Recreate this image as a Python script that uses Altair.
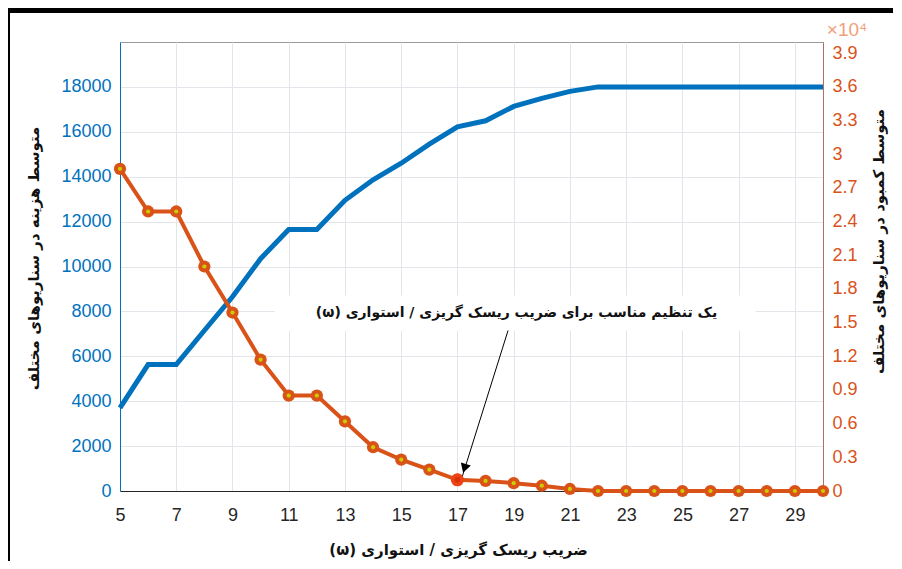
import altair as alt
import pandas as pd

# ---- data ----
omega = list(range(5, 31))
avg_cost = [3700, 5630, 5630, 7150, 8650, 10350, 11650, 11650, 12950, 13860,
            14600, 15450, 16220, 16490, 17130, 17490, 17800,
            18000, 18000, 18000, 18000, 18000, 18000, 18000, 18000, 18000]
avg_shortage = [2.87, 2.49, 2.49, 2.00, 1.59, 1.17, 0.85, 0.85, 0.62, 0.39,
                0.28, 0.19, 0.10, 0.09, 0.07, 0.047, 0.018,
                0, 0, 0, 0, 0, 0, 0, 0, 0]
x_ticks = [5, 7, 9, 11, 13, 15, 17, 19, 21, 23, 25, 27, 29]
left_ticks = [0, 2000, 4000, 6000, 8000, 10000, 12000, 14000, 16000, 18000]
right_ticks = [0, 0.3, 0.6, 0.9, 1.2, 1.5, 1.8, 2.1, 2.4, 2.7, 3.0, 3.3, 3.6, 3.9]

highlight_omega = [17]
highlight_shortage = [0.10]

RLE, PDF = "\u202B", "\u202C"
ann_text = [RLE + "یک تنظیم مناسب برای ضریب ریسک گریزی / استواری (ω)" + PDF]
ann_x = [19.1]
ann_y = [7950]
ann_box_x = [10.5]
ann_box_x2 = [27.6]
ann_box_y = [7150]
ann_box_y2 = [8710]
arrow_x = [18.8, 17.17]
arrow_y = [7150, 640]
arrow_head_x = [17.25]
arrow_head_y = [1010]

x_title = RLE + "ضریب ریسک گریزی / استواری (ω)" + PDF
left_title = "متوسط هزینه در سناریوهای مختلف"
right_title = "متوسط کمبود در سناریوهای مختلف"

BLUE = "#0072BD"
ORANGE = "#D95319"
YELLOW = "#CCCC00"
GRID = "#e2e6ea"
PFONT = "DejaVu Sans"
NFONT = "Liberation Sans"

df = pd.DataFrame({"omega": omega, "cost": avg_cost, "shortage": avg_shortage})
hl = pd.DataFrame({"omega": highlight_omega, "shortage": highlight_shortage})
ann = pd.DataFrame({"x": ann_x, "y": ann_y, "t": ann_text})
box = pd.DataFrame({"x": ann_box_x, "x2": ann_box_x2, "y": ann_box_y, "y2": ann_box_y2})
arr = pd.DataFrame({"x": arrow_x, "y": arrow_y, "o": [0, 1]})
head = pd.DataFrame({"x": arrow_head_x, "y": arrow_head_y})

xscale = alt.Scale(domain=[5, 30], nice=False, zero=False)
xaxis = alt.Axis(values=x_ticks, title=x_title, grid=True, gridColor=GRID,
                 ticks=False, labelFontSize=18, labelFont=NFONT, labelColor="#262626",
                 labelPadding=15, labelFlush=False, labelOverlap=False,
                 domainColor="#262626", titleFont=PFONT, titleFontSize=15,
                 titleFontWeight="bold", titleColor="#111", titleX=338, titleY=58,
                 titleAlign="center", titleBaseline="middle")

lscale = alt.Scale(domain=[0, 20000], nice=False)
laxis = alt.Axis(values=left_ticks, format="d", title=left_title, grid=True, gridColor=GRID,
                 ticks=False, labelFontSize=18, labelFont=NFONT, labelColor=BLUE,
                 labelPadding=9, labelOverlap=False, labelFlush=False,
                 domainColor=BLUE, titleFont=PFONT, titleFontSize=15,
                 titleFontWeight="bold", titleColor="#111", titleAngle=270,
                 titleX=-87, titleY=216, titleAlign="center", titleBaseline="middle")

rscale = alt.Scale(domain=[0, 4.0], nice=False)
raxis = alt.Axis(values=right_ticks, format=".2~f", title=right_title, grid=False,
                 ticks=False, labelFontSize=18, labelFont=NFONT, labelColor=ORANGE,
                 labelPadding=9, labelOverlap=False, labelFlush=False,
                 domainColor="#B07060", orient="right", titleFont=PFONT, titleFontSize=15,
                 titleFontWeight="bold", titleColor="#111", titleAngle=270,
                 titleX=55, titleY=199, titleAlign="center", titleBaseline="middle")

X = lambda f: alt.X(f, type="quantitative", scale=xscale, axis=xaxis)
YL = lambda f: alt.Y(f, type="quantitative", scale=lscale, axis=laxis)
YR = lambda f: alt.Y(f, type="quantitative", scale=rscale, axis=raxis)

box_l = alt.Chart(box).mark_rect(color="white").encode(
    x=X("x"), x2="x2", y=YL("y"), y2="y2")
blue = alt.Chart(df).mark_line(color=BLUE, strokeWidth=5).encode(
    x=X("omega"), y=YL("cost"))
text_l = alt.Chart(ann).mark_text(font=PFONT, fontSize=14, fontWeight="bold",
                                  color="#111", align="center", baseline="middle").encode(
    x=X("x"), y=YL("y"), text="t:N")
left = alt.layer(box_l, blue, text_l)

orange = alt.Chart(df).mark_line(color=ORANGE, strokeWidth=4).encode(
    x=X("omega"), y=YR("shortage"))
dots = alt.Chart(df).mark_circle(color=ORANGE, size=150, opacity=1).encode(
    x=X("omega"), y=YR("shortage"))
cores = alt.Chart(df).mark_circle(color=YELLOW, size=18, opacity=1).encode(
    x=X("omega"), y=YR("shortage"))
hl_dot = alt.Chart(hl).mark_circle(color="#EE4414", size=170, opacity=1).encode(
    x=X("omega"), y=YR("shortage"))
hl_core = alt.Chart(hl).mark_circle(color="#D83008", size=30, opacity=1).encode(
    x=X("omega"), y=YR("shortage"))
arrow_line = alt.Chart(arr).mark_line(color="black", strokeWidth=1).encode(
    x=X("x"), y=YL("y"), order="o:Q")
arrow_head = alt.Chart(head).mark_point(shape="triangle-down", filled=True, color="black",
                                        size=110, angle=17.6, opacity=1).encode(
    x=X("x"), y=YL("y"))
right = alt.layer(orange, dots, cores, hl_dot, hl_core)

deco_data = pd.DataFrame({"d": [0]})
top_border = alt.Chart(deco_data).mark_rule(color="black", strokeWidth=5).encode(
    x=alt.value(-112), x2=alt.value(800), y=alt.value(-31.5))
left_border = alt.Chart(deco_data).mark_rule(color="black", strokeWidth=4).encode(
    x=alt.value(-112), y=alt.value(-34), y2=alt.value(560))
exp_label = alt.Chart(deco_data).mark_text(text="×10⁴", font=NFONT, fontSize=19,
                                           color="#F0A07A", align="center",
                                           baseline="middle").encode(
    x=alt.value(727), y=alt.value(-12))
left_full = alt.layer(left, arrow_line, arrow_head, top_border, left_border, exp_label)

chart = alt.layer(left_full, right).resolve_scale(y="independent").properties(
    width=703, height=449,
    autosize=alt.AutoSizeParams(type="none"),
    padding={"left": 112, "top": 34, "right": 70, "bottom": 70},
    background="white",
).configure_view(stroke="#9a9a9a", strokeWidth=1)

chart.save("out.html", embed_options={"renderer": "svg", "actions": False})
